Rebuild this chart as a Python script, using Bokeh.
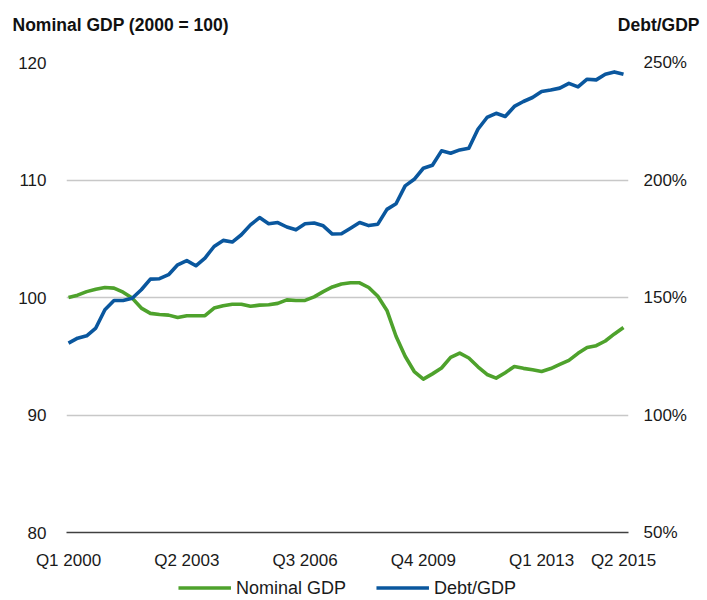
from bokeh.plotting import figure
from bokeh.layouts import column
from bokeh.models import Range1d, LinearAxis, FixedTicker, Legend, LegendItem, Label, ColumnDataSource
from bokeh.embed import file_html
from bokeh.resources import INLINE

# ---- data ----
quarters = [f"Q{q} {y}" for y in range(2000, 2016) for q in range(1, 5)][:62]
nominal_gdp = [100.0, 100.2, 100.5, 100.7, 100.85, 100.8, 100.45, 99.95, 99.1, 98.65,
               98.55, 98.5, 98.3, 98.45, 98.45, 98.45, 99.1, 99.3, 99.43, 99.43,
               99.25, 99.35, 99.38, 99.5, 99.8, 99.75, 99.75, 100.05, 100.5, 100.9,
               101.15, 101.25, 101.25, 100.85, 100.1, 98.9, 96.7, 95.0, 93.7, 93.05,
               93.5, 94.0, 94.9, 95.27, 94.85, 94.1, 93.45, 93.14, 93.6, 94.13,
               93.97, 93.85, 93.7, 93.95, 94.3, 94.65, 95.25, 95.75, 95.9, 96.3,
               96.9, 97.45]
debt_gdp = [130.6, 132.7, 133.7, 137.0, 144.8, 148.7, 148.7, 149.7, 153.3, 157.8,
            158.0, 159.7, 163.9, 165.7, 163.5, 166.8, 171.7, 174.3, 173.6, 176.7,
            180.9, 184.0, 181.4, 181.9, 180.0, 178.8, 181.4, 181.7, 180.5, 177.0,
            177.1, 179.5, 181.9, 180.6, 181.2, 187.5, 189.9, 197.5, 200.3, 205.0,
            206.3, 212.4, 211.4, 212.8, 213.5, 221.6, 226.6, 228.4, 227.0, 231.3,
            233.4, 235.1, 237.7, 238.3, 239.1, 241.1, 239.6, 242.9, 242.6, 245.0,
            246.0, 245.0]
x_tick_labels = ["Q1 2000", "Q2 2003", "Q3 2006", "Q4 2009", "Q1 2013", "Q2 2015"]
left_ticks = [80, 90, 100, 110, 120]
right_ticks = [50, 100, 150, 200, 250]
series_names = ["Nominal GDP", "Debt/GDP"]

GREEN = "#4ea22c"
BLUE = "#0a579e"
FONT = "Liberation Sans"
FS = "17px"

idx = list(range(len(quarters)))
src = ColumnDataSource(dict(x=idx, gdp=nominal_gdp, debt=debt_gdp))

p = figure(width=705, height=576, output_backend="svg", toolbar_location=None,
           x_range=Range1d(-0.22, len(quarters) - 1 + 0.55), y_range=Range1d(80, 120),
           min_border_left=66, min_border_right=77, min_border_top=62, min_border_bottom=44)
p.outline_line_color = None
p.background_fill_color = "white"
p.border_fill_color = "white"
p.extra_y_ranges = {"debt": Range1d(50, 250)}

p.line("x", "gdp", source=src, color=GREEN, line_width=3.6, line_join="round")
p.line("x", "debt", source=src, color=BLUE, line_width=3.6, line_join="round",
       y_range_name="debt")

# x axis
tick_pos = [quarters.index(t) for t in x_tick_labels]
xa = p.xaxis[0]
xa.ticker = FixedTicker(ticks=tick_pos)
xa.major_label_overrides = {i: t for i, t in zip(tick_pos, x_tick_labels)}
xa.axis_line_color = "#404040"
xa.axis_line_width = 1.5
xa.major_tick_line_color = None
xa.minor_tick_line_color = None
xa.major_label_text_font = FONT
xa.major_label_text_font_size = FS
xa.major_label_text_color = "#1a1a1a"
xa.major_label_standoff = 12

# left y axis
ya = p.yaxis[0]
ya.ticker = FixedTicker(ticks=left_ticks)
ya.axis_line_color = None
ya.major_tick_line_color = None
ya.minor_tick_line_color = None
ya.major_label_text_font = FONT
ya.major_label_text_font_size = FS
ya.major_label_text_color = "#1a1a1a"
ya.major_label_standoff = 14

# right y axis
ra = LinearAxis(y_range_name="debt", ticker=FixedTicker(ticks=right_ticks))
ra.major_label_overrides = {v: f"{v}%" for v in right_ticks}
ra.axis_line_color = None
ra.major_tick_line_color = None
ra.minor_tick_line_color = None
ra.major_label_text_font = FONT
ra.major_label_text_font_size = FS
ra.major_label_text_color = "#1a1a1a"
ra.major_label_standoff = 9
p.add_layout(ra, "right")

p.xgrid.grid_line_color = None
p.ygrid.ticker = FixedTicker(ticks=left_ticks[1:])
p.ygrid.grid_line_color = "#c8c8c8"
p.ygrid.grid_line_width = 1.5

# titles
p.add_layout(Label(x=-54, y=38, x_units="screen", y_units="screen",
                   text="Nominal GDP (2000 = 100)", text_font=FONT, text_font_size="17.5px",
                   text_font_style="bold", text_baseline="middle", text_align="left",
                   text_color="#111111"), "above")
p.add_layout(Label(x=633, y=18, x_units="screen", y_units="screen",
                   text="Debt/GDP", text_font=FONT, text_font_size="17.5px",
                   text_font_style="bold", text_baseline="middle", text_align="right",
                   text_color="#111111"), "above")

# legend strip (same series, drawn out of view so only the legend shows)
pl = figure(width=705, height=23, output_backend="svg", toolbar_location=None,
            x_range=Range1d(0, 1), y_range=Range1d(-2, -1),
            x_axis_type=None, y_axis_type=None,
            min_border_left=0, min_border_right=0, min_border_top=0, min_border_bottom=0)
pl.outline_line_color = None
pl.xgrid.grid_line_color = None
pl.ygrid.grid_line_color = None
g1 = pl.line("x", "gdp", source=src, color=GREEN, line_width=3.6)
g2 = pl.line("x", "debt", source=src, color=BLUE, line_width=3.6)
legend = Legend(items=[LegendItem(label=series_names[0], renderers=[g1]),
                       LegendItem(label=series_names[1], renderers=[g2])],
                orientation="horizontal", location="center",
                label_text_font=FONT, label_text_font_size="18px", label_text_color="#1a1a1a",
                glyph_width=53, glyph_height=18, label_standoff=5, spacing=30,
                padding=0, margin=0, border_line_color=None, background_fill_alpha=0)
pl.add_layout(legend, "center")

open("out.html", "w").write(file_html(column(p, pl, spacing=0), INLINE))
